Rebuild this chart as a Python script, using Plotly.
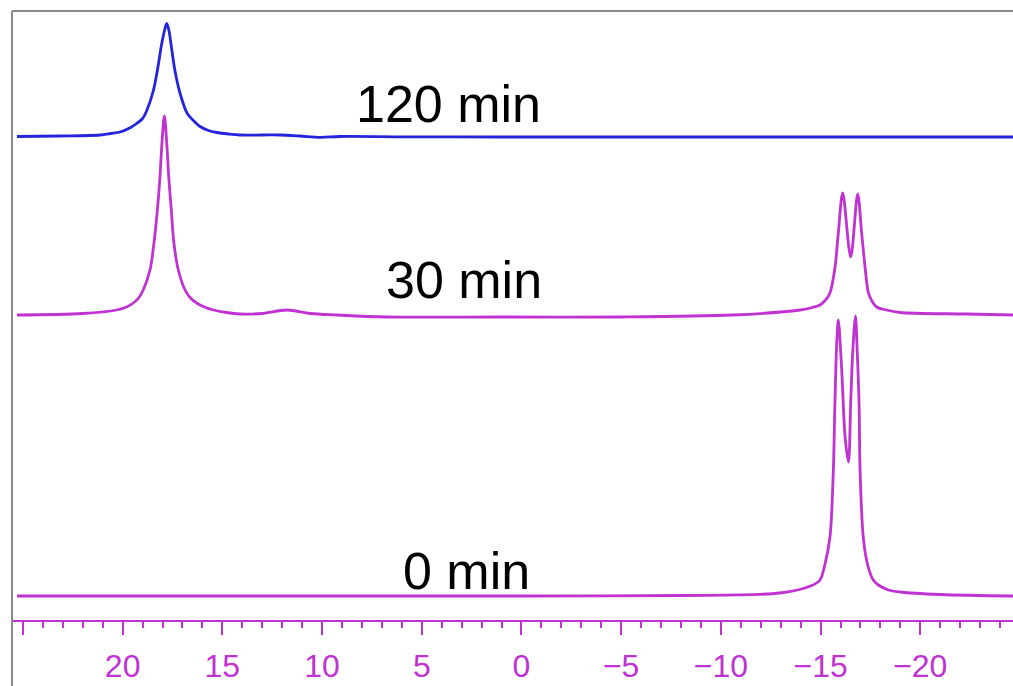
import plotly.graph_objects as go

# ---- data (chemical shift in ppm, intensity in arbitrary units) ----
ppm_120 = [25.30, 23.14, 21.14, 20.60, 20.13, 19.60, 19.30, 19.00, 18.79, 18.46, 18.26, 18.04,
           17.90, 17.79, 17.68, 17.58, 17.38, 17.12, 16.76, 16.40, 16.12, 15.70, 15.28, 14.70,
           14.12, 13.0, 12.11, 11.11, 10.10, 9.10, 6.09, 1.08, -3.94, -8.95, -13.97, -18.98, -24.65]
int_120 = [0, 0.5, 1.5, 3, 4.5, 9, 13, 18, 26, 46, 66, 93,
           106, 113, 106, 93, 66, 43, 23, 15, 10, 6, 4, 2.5,
           1.5, 1.5, 1.5, 0.5, -0.8, 0, -0.3, -0.5, -0.5, -0.5, -0.5, -0.5, -0.5]

ppm_30 = [25.30, 22.0, 20.30, 19.80, 19.47, 19.20, 18.97, 18.63, 18.43, 18.26, 18.13, 18.03,
          17.91, 17.79, 17.69, 17.56, 17.43, 17.21, 16.87, 16.60, 16.29, 15.90, 15.45, 14.80,
          14.12, 13.0, 11.77, 10.6, 9.27, 6.76, 1.08, -4.94, -10.61, -13.97, -14.50, -14.97,
          -15.25, -15.47, -15.72, -15.89, -16.11, -16.51, -16.86, -17.06, -17.23, -17.39, -17.55,
          -17.81, -18.30, -18.98, -22.32, -24.65]
int_30 = [0, 1.5, 5, 8, 12, 17, 25, 45, 72, 105, 138, 172,
          199, 172, 138, 105, 72, 45, 25, 17, 12, 8, 5, 2.5,
          1, 1.5, 5, 1.5, 0, -2, -2, -2, 0, 5, 7, 10,
          15, 22, 47, 82, 122, 58, 121, 82, 48, 23, 15,
          8, 5, 2.5, 1, 0]

ppm_0 = [25.30, 15.0, 5.0, 0.0, -8.0, -12.96, -14.50, -14.97, -15.20, -15.47, -15.64, -15.72,
         -15.81, -15.89, -16.06, -16.23, -16.40, -16.51, -16.61, -16.75, -16.84, -16.93, -16.98,
         -17.14, -17.35, -17.64, -17.90, -18.40, -18.98, -21.0, -24.65]
int_0 = [0, 0, 0, 0, 0.5, 3, 10, 16, 30, 59, 126, 193,
         253, 276, 226, 159, 134, 193, 243, 280, 243, 193, 126,
         59, 32, 16, 11, 6, 4, 1.5, 0]

labels = ["120 min", "30 min", "0 min"]
tick_vals = [25, 20, 15, 10, 5, 0, -5, -10, -15, -20]
tick_text = ["", "20", "15", "10", "5", "0", "\u22125", "\u221210", "\u221215", "\u221220"]

# ---- styling / stacking ----
offsets = {"120 min": 549.5, "30 min": 371, "0 min": 90}
colors = {"120 min": "#2424dc", "30 min": "#c032d2", "0 min": "#c032d2"}
label_pos = {"120 min": (3.66, 582), "30 min": (2.88, 406), "0 min": (2.76, 115)}
MAG = "#c032d2"

series = {"120 min": (ppm_120, int_120), "30 min": (ppm_30, int_30), "0 min": (ppm_0, int_0)}

fig = go.Figure()
for name in labels:
    xs, ys = series[name]
    off = offsets[name]
    fig.add_trace(go.Scatter(
        x=xs, y=[v + off for v in ys], mode="lines",
        line=dict(color=colors[name], width=2.8, shape="spline", smoothing=0.9),
        name=name, hoverinfo="skip"))

for name in labels:
    x, y = label_pos[name]
    fig.add_annotation(x=x, y=y, text=name, showarrow=False,
                       font=dict(family="Liberation Sans, Arial, sans-serif", size=52, color="black"),
                       xanchor="center", yanchor="middle")

fig.update_layout(
    width=1013, height=686,
    margin=dict(l=12, r=0, t=11, b=0, pad=0),
    paper_bgcolor="white", plot_bgcolor="white",
    showlegend=False, hovermode=False,
    xaxis=dict(range=[25.55, -24.65], anchor="free", position=(686 - 621) / 675,
               showline=True, linecolor=MAG, linewidth=2,
               tickmode="array", tickvals=tick_vals, ticktext=tick_text,
               ticks="outside", ticklen=13, tickwidth=2, tickcolor=MAG,
               minor=dict(ticks="outside", dtick=1, tick0=0, ticklen=6, tickwidth=1.5, tickcolor=MAG),
               tickfont=dict(family="Liberation Sans, Arial, sans-serif", size=32, color=MAG),
               ticklabelstandoff=4,
               showgrid=False, zeroline=False, fixedrange=True),
    yaxis=dict(range=[0, 675], visible=False, showgrid=False, zeroline=False, fixedrange=True),
    shapes=[
        dict(type="line", xref="paper", yref="paper", x0=0, x1=0, y0=0, y1=1,
             line=dict(color="#8a8a8a", width=2)),
        dict(type="line", xref="paper", yref="paper", x0=0, x1=1, y0=1, y1=1,
             line=dict(color="#8a8a8a", width=2)),
    ],
)

fig.write_html("out.html", config={"displayModeBar": False},
               post_script="document.body.style.margin='0';document.body.style.overflow='hidden';")
